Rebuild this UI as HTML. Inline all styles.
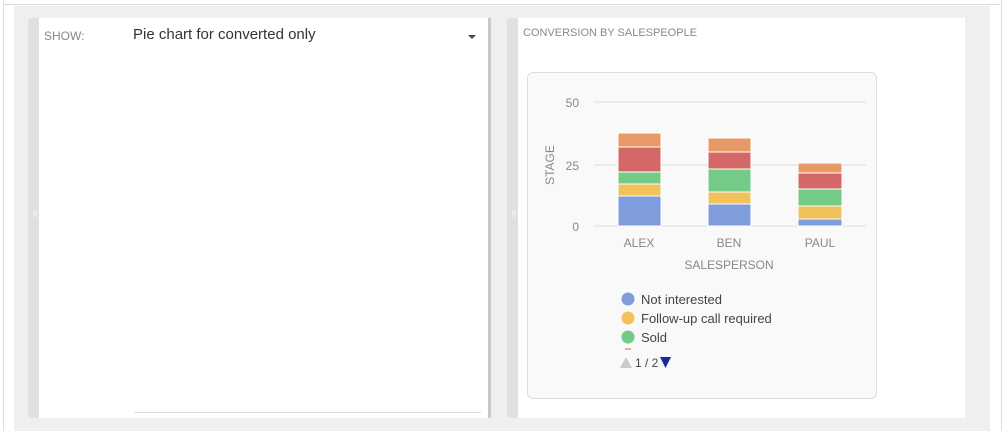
<!DOCTYPE html><html><head><style>
body{margin:0;width:1004px;height:431px;background:#fff;position:relative;overflow:hidden;font-family:"Liberation Sans",sans-serif}
.a{position:absolute}
</style></head><body>
<div class="a" style="left:3px;top:0;width:997px;height:431px;border-left:1px solid #ddd;border-right:1px solid #ddd;"></div>
<div class="a" style="left:4px;top:4px;width:996px;height:1px;background:#ddd"></div>
<div class="a" style="left:14px;top:6px;width:976px;height:425px;background:#efefef"></div>
<div class="a" style="left:28px;top:18px;width:11px;height:400px;background:#e0e0e0;border-radius:4px 0 0 4px"></div>
<div class="a" style="left:39px;top:18px;width:449px;height:400px;background:#fff"></div>
<div class="a" style="left:488px;top:18px;width:3px;height:400px;background:#c8c8c8"></div>
<div class="a" style="left:44px;top:29px;font-size:12px;color:#888">SHOW:</div>
<div class="a" style="left:133px;top:26px;font-size:15px;color:#333">Pie chart for converted only</div>
<div class="a" style="left:468px;top:35px;width:0;height:0;border-left:4px solid transparent;border-right:4px solid transparent;border-top:4px solid #444"></div>
<div class="a" style="left:134px;top:412px;width:347px;height:1px;background:#ddd"></div>
<div class="a" style="left:32px;top:210px;color:#fff;font-size:8px">⠿</div>
<div class="a" style="left:507px;top:18px;width:11px;height:400px;background:#e0e0e0;border-radius:4px 0 0 4px"></div>
<div class="a" style="left:511px;top:210px;color:#fff;font-size:8px">⠿</div>
<div class="a" style="left:518px;top:18px;width:447px;height:400px;background:#fff"></div>
<div class="a" style="left:523px;top:27px;font-size:11px;color:#888">CONVERSION BY SALESPEOPLE</div>
<div class="a" style="left:527px;top:72px;width:348px;height:325px;background:#f9f9f9;border:1px solid #ddd;border-radius:6px"></div>
<svg class="a" style="left:0;top:0" width="1004" height="431" font-family="Liberation Sans, sans-serif">
<g stroke="#ddd"><line x1="594" x2="866" y1="102" y2="102"/><line x1="594" x2="866" y1="165" y2="165"/><line x1="594" x2="866" y1="226" y2="226"/></g>
<g font-size="12" fill="#888" text-anchor="end"><text x="579" y="107">50</text><text x="579" y="170">25</text><text x="579" y="231">0</text></g>
<text transform="translate(554,165) rotate(-90)" font-size="12" fill="#888" text-anchor="middle">STAGE</text>
<g font-size="12" fill="#888" text-anchor="middle"><text x="639" y="247">ALEX</text><text x="729" y="247">BEN</text><text x="820" y="247">PAUL</text><text x="729" y="269">SALESPERSON</text></g>
<g stroke="#fff" stroke-width="1">
<rect x="618" y="196" width="43" height="30" fill="#7f9cdc"/><rect x="618" y="184" width="43" height="12" fill="#f2c15a"/><rect x="618" y="172" width="43" height="12" fill="#74cb88"/><rect x="618" y="147" width="43" height="25" fill="#d46867"/><rect x="618" y="133" width="43" height="14" fill="#e89a66"/>
<rect x="708" y="204" width="43" height="22" fill="#7f9cdc"/><rect x="708" y="192" width="43" height="12" fill="#f2c15a"/><rect x="708" y="169" width="43" height="23" fill="#74cb88"/><rect x="708" y="152" width="43" height="17" fill="#d46867"/><rect x="708" y="138" width="43" height="14" fill="#e89a66"/>
<rect x="798" y="219" width="44" height="7" fill="#7f9cdc"/><rect x="798" y="206" width="44" height="13" fill="#f2c15a"/><rect x="798" y="189" width="44" height="17" fill="#74cb88"/><rect x="798" y="173" width="44" height="16" fill="#d46867"/><rect x="798" y="163" width="44" height="10" fill="#e89a66"/>
</g>
<circle cx="628" cy="299" r="6.5" fill="#7f9cdc"/><circle cx="628" cy="318" r="6.5" fill="#f2c15a"/><circle cx="628" cy="337" r="6.5" fill="#74cb88"/>
<g font-size="13" fill="#444"><text x="641" y="304">Not interested</text><text x="641" y="323">Follow-up call required</text><text x="641" y="342">Sold</text></g>
<line x1="625" x2="631" y1="349" y2="349" stroke="#d46867"/>
<polygon points="620,368 626,357 632,368" fill="#ccc"/>
<text x="635" y="367" font-size="12" fill="#444">1 / 2</text>
<polygon points="660,357 671,357 665.5,368" fill="#1a2a99"/>
</svg>
</body></html>
